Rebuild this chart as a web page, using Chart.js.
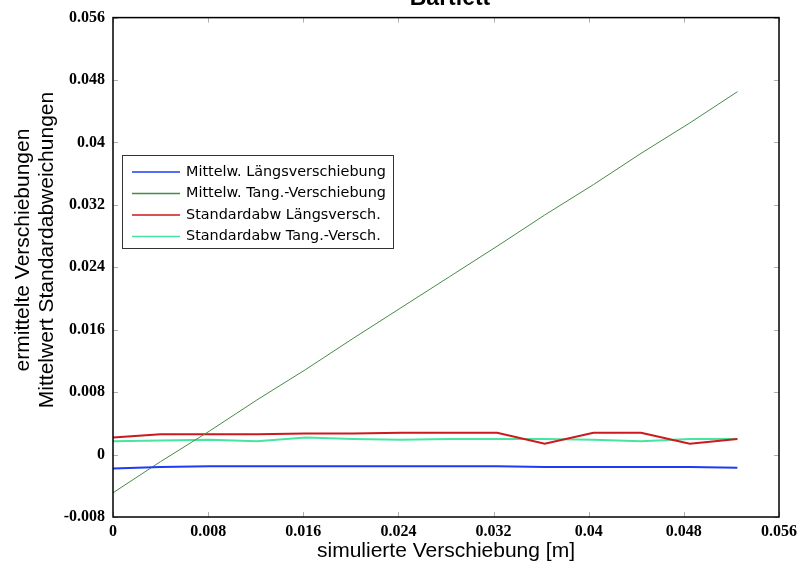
<!DOCTYPE html>
<html>
<head>
<meta charset="utf-8">
<script src="https://cdn.jsdelivr.net/npm/chart.js@4/dist/chart.umd.min.js"></script>
<style>
  body { margin: 0; background: #fff; }
</style>
</head>
<body>
<canvas id="myChart" width="806" height="568"></canvas>
<script>
// simulated displacement [m]
const xValues = [0, 0.0040, 0.0081, 0.0121, 0.0162, 0.0202, 0.0242, 0.0283, 0.0323, 0.0363, 0.0404, 0.0444, 0.0485, 0.0525];
const meanLong = [-0.0018, -0.0016, -0.0015, -0.0015, -0.0015, -0.0015, -0.0015, -0.0015, -0.0015, -0.0016, -0.0016, -0.0016, -0.0016, -0.0017];
const meanTang = [-0.0049, -0.0009, 0.0030, 0.0070, 0.0109, 0.0149, 0.0188, 0.0228, 0.0267, 0.0307, 0.0346, 0.0386, 0.0425, 0.0465];
const stdLong = [0.0022, 0.0026, 0.0026, 0.0026, 0.0027, 0.0027, 0.0028, 0.0028, 0.0028, 0.0014, 0.0028, 0.0028, 0.0014, 0.0020];
const stdTang = [0.0017, 0.0018, 0.0019, 0.0017, 0.0022, 0.0020, 0.0019, 0.0020, 0.0020, 0.0020, 0.0019, 0.0017, 0.0020, 0.0020];

const seriesNames = ["Mittelw. Längsverschiebung", "Mittelw. Tang.-Verschiebung", "Standardabw Längsversch.", "Standardabw Tang.-Versch."];
const yTitleLines = ["ermittelte Verschiebungen", "Mittelwert Standardabweichungen"];
const xTicks = [0, 0.008, 0.016, 0.024, 0.032, 0.04, 0.048, 0.056];
const yTicks = [-0.008, 0, 0.008, 0.016, 0.024, 0.032, 0.04, 0.048, 0.056];

const toPoints = (ys) => ys.map((y, i) => ({ x: xValues[i], y: y }));
const fmt = (v) => String(parseFloat(v.toFixed(3)));

// FRAME, INWARD TICKS, TITLES, LEGEND
const matlabLook = {
  id: "matlabLook",
  afterDraw(chart) {
    const { ctx, chartArea: a, scales } = chart;
    ctx.save();
    // inward ticks
    ctx.strokeStyle = "#b0b0b0";
    ctx.lineWidth = 1;
    ctx.beginPath();
    xTicks.forEach((t) => {
      const px = Math.round(scales.x.getPixelForValue(t)) + 0.5;
      ctx.moveTo(px, a.bottom); ctx.lineTo(px, a.bottom - 5);
      ctx.moveTo(px, a.top); ctx.lineTo(px, a.top + 5);
    });
    yTicks.forEach((t) => {
      const py = Math.round(scales.y.getPixelForValue(t)) + 0.5;
      ctx.moveTo(a.left, py); ctx.lineTo(a.left + 5, py);
      ctx.moveTo(a.right, py); ctx.lineTo(a.right - 5, py);
    });
    ctx.stroke();
    // box
    ctx.strokeStyle = "#000";
    ctx.lineWidth = 1.5;
    ctx.strokeRect(a.left, a.top, a.right - a.left, a.bottom - a.top);

    // title, mostly cut off at the top
    ctx.fillStyle = "#000";
    ctx.font = "bold 23px 'Liberation Sans', Arial, sans-serif";
    ctx.textAlign = "center";
    ctx.textBaseline = "alphabetic";
    ctx.fillText("Bartlett", (a.left + a.right) / 2 + 4, 5);

    // y axis title (two lines, sits a bit above the plot centre)
    ctx.save();
    ctx.font = "21px 'Liberation Sans', Arial, sans-serif";
    ctx.textBaseline = "middle";
    ctx.translate(0, 250);
    ctx.rotate(-Math.PI / 2);
    yTitleLines.forEach((line, i) => ctx.fillText(line, 0, 23 + i * 24));
    ctx.restore();

    // legend
    const lx = a.left + 9, ly = 155, lw = 271, lh = 93;
    ctx.fillStyle = "#fff";
    ctx.fillRect(lx, ly, lw, lh);
    ctx.strokeStyle = "#333";
    ctx.lineWidth = 1;
    ctx.strokeRect(lx + 0.5, ly + 0.5, lw, lh);
    ctx.font = "14.4px 'DejaVu Sans', Verdana, sans-serif";
    ctx.textAlign = "left";
    ctx.textBaseline = "middle";
    chart.data.datasets.forEach((ds, i) => {
      const ry = ly + 17 + i * 21.5;
      ctx.strokeStyle = ds.borderColor;
      ctx.lineWidth = 1.5;
      ctx.beginPath();
      ctx.moveTo(lx + 10, ry); ctx.lineTo(lx + 58, ry);
      ctx.stroke();
      ctx.fillStyle = "#000";
      ctx.fillText(ds.label, lx + 64, ry);
    });
    ctx.restore();
  },
};

const ctx = document.getElementById("myChart").getContext("2d");
const myChartObj = new Chart(ctx, {
  type: "line",
  data: {
    datasets: [
      { label: seriesNames[0], data: toPoints(meanLong), borderColor: "rgb(30,60,245)", borderWidth: 2 },
      { label: seriesNames[1], data: toPoints(meanTang), borderColor: "rgb(70,140,70)", borderWidth: 1 },
      { label: seriesNames[2], data: toPoints(stdLong), borderColor: "rgb(205,25,30)", borderWidth: 2 },
      { label: seriesNames[3], data: toPoints(stdTang), borderColor: "rgb(70,230,160)", borderWidth: 2 },
    ],
  },
  options: {
    responsive: false,
    animation: false,
    devicePixelRatio: 1,
    elements: { point: { radius: 0 }, line: { tension: 0 } },
    layout: { padding: { left: 0, right: 27, top: 17, bottom: 0 } },
    plugins: { legend: { display: false }, tooltip: { enabled: false } },
    scales: {
      x: {
        type: "linear",
        min: 0,
        max: 0.056,
        afterBuildTicks: (scale) => { scale.ticks = xTicks.map((v) => ({ value: v })); },
        afterFit: (scale) => { scale.height = 51; },
        grid: { display: false, drawTicks: false },
        border: { display: false },
        ticks: {
          padding: 5,
          color: "#000",
          maxRotation: 0,
          font: { family: "'Liberation Serif', 'Times New Roman', serif", weight: "bold", size: 16 },
          callback: (v) => fmt(v),
        },
        title: {
          display: true,
          text: "simulierte Verschiebung [m]",
          color: "#000",
          padding: { top: 0, bottom: 4 },
          font: { family: "'Liberation Sans', Arial, sans-serif", size: 21 },
        },
      },
      y: {
        min: -0.008,
        max: 0.056,
        afterBuildTicks: (scale) => { scale.ticks = yTicks.map((v) => ({ value: v })); },
        afterFit: (scale) => { scale.width = 113; },
        grid: { display: false, drawTicks: false },
        border: { display: false },
        ticks: {
          padding: 8,
          color: "#000",
          font: { family: "'Liberation Serif', 'Times New Roman', serif", weight: "bold", size: 16 },
          callback: (v) => fmt(v),
        },
        title: { display: false },
      },
    },
  },
  plugins: [matlabLook],
});
</script>
</body>
</html>
